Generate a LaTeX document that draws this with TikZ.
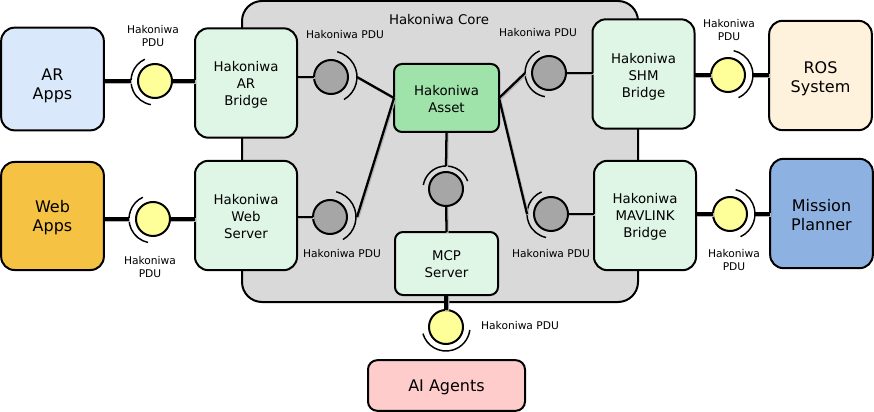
\documentclass[tikz,border=0pt]{standalone}
\usepackage{fontspec}
\setmainfont{DejaVu Sans}
\usetikzlibrary{calc}
\definecolor{arblue}{HTML}{DAE8FC}
\definecolor{weborange}{HTML}{F5C243}
\definecolor{bridgegreen}{HTML}{DFF5E5}
\definecolor{assetgreen}{HTML}{9FE3AA}
\definecolor{coregray}{HTML}{D9D9D9}
\definecolor{ballgray}{HTML}{A6A6A6}
\definecolor{ballyellow}{HTML}{FFFF99}
\definecolor{rosbeige}{HTML}{FFF2DC}
\definecolor{missionblue}{HTML}{8DB2E2}
\definecolor{aipink}{HTML}{FFCCCC}
\tikzset{
	blockbox/.style={draw=black, line width=1.5pt, rounded corners=10pt, align=center, outer sep=0pt, inner sep=0pt,
		font=\fontsize{10}{12.75}\selectfont},
	appbox/.style={blockbox, minimum width=77pt, minimum height=77pt, font=\fontsize{12}{14.25}\selectfont},
	bridgebox/.style={blockbox, fill=bridgegreen, minimum width=76.5pt, minimum height=82pt},
	pduball/.style={circle, draw=black, line width=1.5pt, minimum size=25.5pt, inner sep=0pt, outer sep=0pt},
	pdutext/.style={align=center, inner sep=0pt, font=\fontsize{8}{9.75}\selectfont},
	linkshadow/.style={preaction={draw=black!30, line width=#1, transform canvas={shift={(0.8pt,-0.8pt)}}}},
	thicklink/.style={linkshadow=3pt, line width=3pt},
	thinlink/.style={linkshadow=1.7pt, line width=1.7pt},
	socketline/.style={line width=1.1pt}
}
\newcommand\pdusocket[4]{\draw[socketline] (#1.center) ++(#2:#4) arc (#2:#3:#4);}
\newcommand\dropby[1]{\rule{0pt}{#1}}

\begin{document}
\begin{tikzpicture}[x=0.75pt, y=0.75pt]
	\useasboundingbox (0,0) rectangle (874,411);

	% core background
	\node[blockbox, fill=coregray, rounded corners=15pt, minimum width=297pt, minimum height=225.75pt] (core) at (440,259.5) {};
	\node[font=\fontsize{10}{12}\selectfont, inner sep=0pt] (coretitle) at (439,391) {Hakoniwa Core};

	% outer blocks
	\node[appbox, fill=arblue] (arapps) at (52.5,332) {\dropby{19.25pt}AR\\Apps};
	\node[appbox, fill=weborange, minimum height=81pt] (webapps) at (52.5,195) {\dropby{12pt}Web\\Apps};
	\node[appbox, fill=rosbeige, minimum height=82pt] (rossystem) at (820.5,335.5) {\dropby{13.25pt}ROS\\System};
	\node[appbox, fill=missionblue, minimum height=82pt] (missionplanner) at (821.5,197.5) {\dropby{12pt}Mission\\Planner};
	\node[blockbox, fill=aipink, rounded corners=7pt, minimum width=117.75pt, minimum height=38pt, font=\fontsize{12}{14.25}\selectfont] (aiagents) at (446.5,25.5) {\dropby{11.75pt}AI Agents};

	% bridges
	\node[bridgebox] (arbridge) at (246,328) {\dropby{10.6pt}Hakoniwa\\AR\\Bridge};
	\node[bridgebox] (webserver) at (246,195.5) {\dropby{9.1pt}Hakoniwa\\Web\\Server};
	\node[bridgebox] (shmbridge) at (643.5,337) {\dropby{12.1pt}Hakoniwa\\SHM\\Bridge};
	\node[bridgebox] (mavbridge) at (645,195.5) {\dropby{9.1pt}Hakoniwa\\MAVLINK\\Bridge};

	% inside the core
	\node[blockbox, fill=assetgreen, rounded corners=6pt, minimum width=78.75pt, minimum height=51pt] (asset) at (446.5,313) {\dropby{9.1pt}Hakoniwa\\Asset};
	\node[blockbox, fill=bridgegreen, rounded corners=6pt, minimum width=77.25pt, minimum height=47.25pt] (mcpserver) at (446.5,147.5) {\dropby{9.1pt}MCP\\Server};

	% balls
	\node[pduball, fill=ballyellow] (arpdu) at (155,330) {};
	\node[pduball, fill=ballyellow] (webpdu) at (153,192) {};
	\node[pduball, fill=ballyellow] (shmpdu) at (728,336) {};
	\node[pduball, fill=ballyellow] (mavpdu) at (730,197) {};
	\node[pduball, fill=ballyellow] (mcppdu) at (446,84) {};
	\node[pduball, fill=ballgray] (arcore) at (331,334) {};
	\node[pduball, fill=ballgray] (webcore) at (330,194) {};
	\node[pduball, fill=ballgray] (shmcore) at (549,338) {};
	\node[pduball, fill=ballgray] (mavcore) at (551,197) {};
	\node[pduball, fill=ballgray] (assetcore) at (446,222) {};

	% sockets
	\pdusocket{arpdu}{115}{260}{24}
	\pdusocket{webpdu}{115}{258}{24}
	\pdusocket{shmpdu}{-65}{77}{25}
	\pdusocket{mavpdu}{-65}{77}{25}
	\pdusocket{mcppdu}{196}{353}{24}
	\pdusocket{arcore}{-60}{76}{26}
	\pdusocket{webcore}{-60}{76}{26}
	\pdusocket{shmcore}{113}{260}{24}
	\pdusocket{mavcore}{113}{258}{24}
	\pdusocket{assetcore}{20}{170}{23}

	\coordinate (arsock) at ($(arpdu.center)+(180:24)$);
	\coordinate (websock) at ($(webpdu.center)+(180:24)$);
	\coordinate (shmsock) at ($(shmpdu.center)+(0:25)$);
	\coordinate (mavsock) at ($(mavpdu.center)+(0:25)$);
	\coordinate (arcoresock) at ($(arcore.center)+(0:26)$);
	\coordinate (webcoresock) at ($(webcore.center)+(0:27)$);
	\coordinate (shmcoresock) at ($(shmcore.center)+(180:24)$);
	\coordinate (mavcoresock) at ($(mavcore.center)+(180:24)$);
	\coordinate (assetsock) at ($(assetcore.center)+(90:23)$);

	% outside links
	\draw[thicklink] (arapps.east |- arsock) -- (arsock);
	\draw[thicklink] (arpdu) -- (arpdu -| arbridge.west);
	\draw[thicklink] (webapps.east |- websock) -- (websock);
	\draw[thicklink] (webpdu) -- (webpdu -| webserver.west);
	\draw[thicklink] (shmpdu) -- (shmpdu -| shmbridge.east);
	\draw[thicklink] (shmsock) -- (shmsock -| rossystem.west);
	\draw[thicklink] (mavpdu) -- (mavpdu -| mavbridge.east);
	\draw[thicklink] (mavsock) -- (mavsock -| missionplanner.west);
	\draw[thicklink] (mcpserver) -- (mcppdu);

	% core links
	\draw[thinlink] (arcore) -- (arcore -| arbridge.east);
	\draw[thinlink] (webcore) -- (webcore -| webserver.east);
	\draw[thinlink] (shmcore) -- (shmcore -| shmbridge.west);
	\draw[thinlink] (mavcore) -- (mavcore -| mavbridge.west);
	\draw[thinlink] (asset.west) -- (arcoresock);
	\draw[thinlink] (asset.west) -- (webcoresock);
	\draw[thinlink] (asset.east) -- (shmcoresock);
	\draw[thinlink] (asset.east) -- (mavcoresock);
	\draw[thinlink] (asset.south) -- (assetsock);
	\draw[thinlink] (mcpserver.north) -- (assetcore);

	% labels
	\node[pdutext] (arpdutext) at (153,375) {Hakoniwa\\PDU};
	\node[pdutext] (webpdutext) at (150,144) {Hakoniwa\\PDU};
	\node[pdutext] (shmpdutext) at (729,381) {Hakoniwa\\PDU};
	\node[pdutext] (mavpdutext) at (734,151) {Hakoniwa\\PDU};
	\node[pdutext] (mcppdutext) at (520,85) {Hakoniwa PDU};
	\node[pdutext] (arcoretext) at (345,376) {Hakoniwa PDU};
	\node[pdutext] (webcoretext) at (342,157) {Hakoniwa PDU};
	\node[pdutext] (shmcoretext) at (538,378) {Hakoniwa PDU};
	\node[pdutext] (mavcoretext) at (551,157) {Hakoniwa PDU};
\end{tikzpicture}
\end{document}
